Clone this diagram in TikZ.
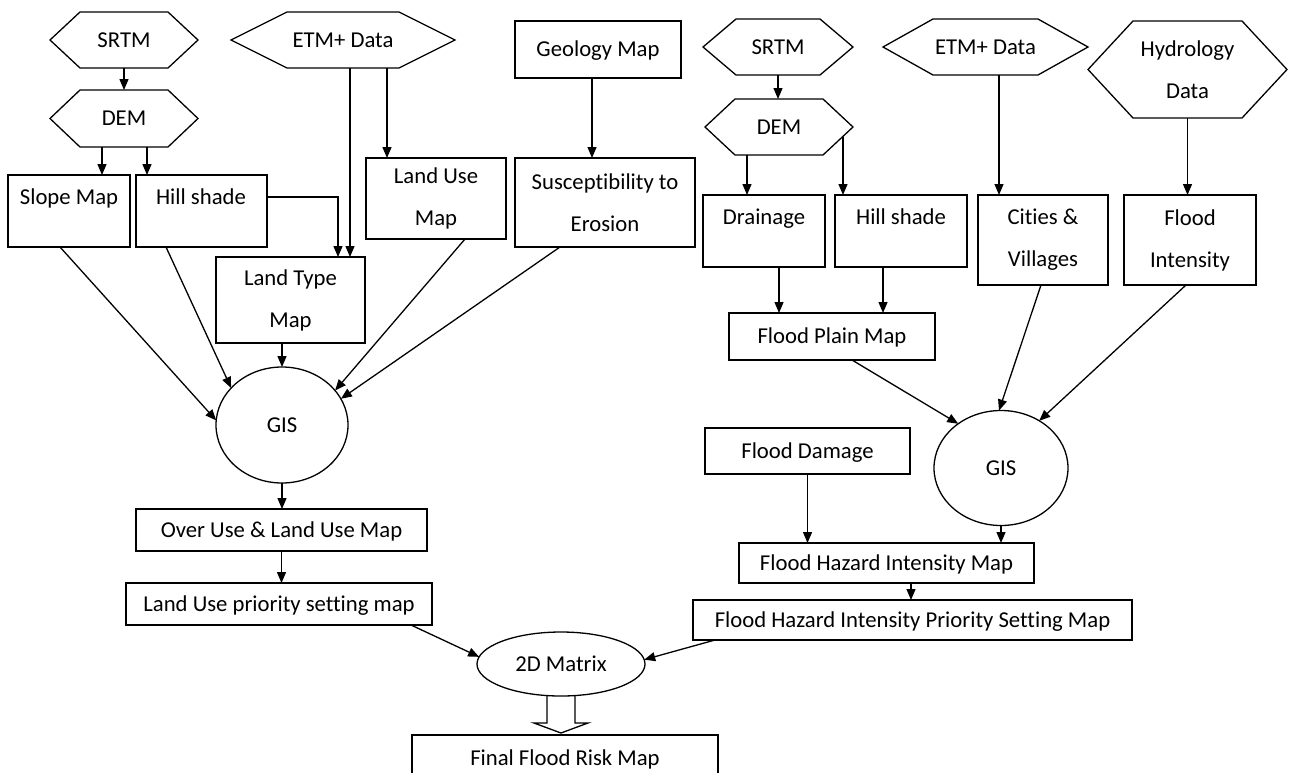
\documentclass[tikz,border=0pt]{standalone}
\usepackage{fontspec}
\setmainfont{Carlito}[Ligatures=NoCommon]
\usetikzlibrary{arrows.meta,shapes.geometric,calc}
\newcommand\hexdraw[2]{\draw[line] (#1.west) -- ([xshift=#2pt]#1.north west) -- ([xshift=-#2pt]#1.north east) -- (#1.east) -- ([xshift=-#2pt]#1.south east) -- ([xshift=#2pt]#1.south west) -- cycle;}
\begin{document}
\begin{tikzpicture}[x=1pt,y=-1pt,
  line/.style={line width=1.3pt},
  arr/.style={line, -{Triangle[length=11pt,width=9pt]}},
  base/.style={font=\fontsize{22.7}{42}\selectfont, inner sep=0pt, outer sep=0pt},
  box/.style={base, draw, line width=1.3pt, rectangle},
  one/.style={text height=14.6pt, text depth=0pt},
  two/.style={align=center},
  hexbox/.style={base},
  ell/.style={base, draw, line width=1.3pt, ellipse, one},
  txt/.style={base, one}
]
\fill[white] (0,0) rectangle (1290,772);
\useasboundingbox (0,0) rectangle (1290,772);

% ---------- left part ----------
\node[hexbox, one, minimum width=148pt, minimum height=56pt] (srtmL) at (124,40) {SRTM};
\node[hexbox, one, minimum width=148pt, minimum height=57pt] (demL) at (124,118.5) {DEM};
\node[hexbox, one, minimum width=224pt, minimum height=56pt] (etmL) at (343,40) {ETM+ Data};
\hexdraw{srtmL}{30}
\hexdraw{demL}{30}
\hexdraw{etmL}{56}

\node[box, anchor=north west, minimum width=122pt, minimum height=72pt] (slope) at (8,175) {};
\node[txt] (slopeT) at (69,197) {Slope Map};
\node[box, anchor=north west, minimum width=131pt, minimum height=72pt] (hillL) at (136,175) {};
\node[txt] (hillLT) at (201,197) {Hill shade};
\node[box, two, anchor=north west, minimum width=140pt, minimum height=81pt] (landuse) at (366,158) {Land Use\\Map};
\node[box, two, anchor=north west, minimum width=149pt, minimum height=86pt] (landtype) at (216,257) {Land Type\\Map};
\node[box, one, anchor=north west, minimum width=166pt, minimum height=57pt] (geology) at (515,21) {Geology Map};
\node[box, two, anchor=north west, minimum width=180pt, minimum height=89pt] (suscept) at (515,158) {Susceptibility to\\Erosion};
\node[ell, minimum width=132pt, minimum height=116pt] (gisL) at (282,425) {GIS};
\node[box, one, anchor=north west, minimum width=291pt, minimum height=42pt] (overuse) at (136,509) {Over Use \& Land Use Map};
\node[box, one, anchor=north west, minimum width=306pt, minimum height=42pt] (lupsm) at (126,583) {Land Use priority setting map};

% ---------- right part ----------
\node[hexbox, one, minimum width=150pt, minimum height=56pt] (srtmR) at (778,47) {SRTM};
\node[hexbox, one, minimum width=148pt, minimum height=56pt] (demR) at (779,127) {DEM};
\node[hexbox, one, minimum width=205pt, minimum height=56pt] (etmR) at (985.5,47) {ETM+ Data};
\node[hexbox, two, minimum width=199pt, minimum height=97pt] (hydro) at (1187.5,69.5) {Hydrology\\Data};
\hexdraw{srtmR}{33}
\hexdraw{demR}{30}
\hexdraw{etmR}{50}
\hexdraw{hydro}{45}

\node[box, anchor=north west, minimum width=122pt, minimum height=72pt] (drain) at (703,195) {};
\node[txt] (drainT) at (764,217) {Drainage};
\node[box, anchor=north west, minimum width=132pt, minimum height=72pt] (hillR) at (835,195) {};
\node[txt] (hillRT) at (901,217) {Hill shade};
\node[box, two, anchor=north west, minimum width=130pt, minimum height=90pt] (cities) at (978,195) {Cities \&\\Villages};
\node[box, two, anchor=north west, minimum width=132pt, minimum height=90pt] (fint) at (1124,195) {Flood\\Intensity};
\node[box, one, anchor=north west, minimum width=206pt, minimum height=47pt] (fplain) at (729,313) {Flood Plain Map};
\node[ell, minimum width=134pt, minimum height=115pt] (gisR) at (1001,468) {GIS};
\node[box, one, anchor=north west, minimum width=205pt, minimum height=46pt] (fdamage) at (705,428) {Flood Damage};
\node[box, one, anchor=north west, minimum width=295pt, minimum height=40pt] (fhim) at (739,543) {Flood Hazard Intensity Map};
\node[box, one, anchor=north west, minimum width=439pt, minimum height=40pt] (fhipsm) at (693,600) {Flood Hazard Intensity Priority Setting Map};
\node[ell, minimum width=168pt, minimum height=64pt] (matrix) at (561,664) {2D Matrix};
\begin{scope}
\clip (0,0) rectangle (1290,772);
\node[box, one, anchor=north west, minimum width=306pt, minimum height=46pt] (final) at (412,735) {Final Flood Risk Map};
\end{scope}

% ---------- helper x positions ----------
\coordinate (x60) at (60,0);
\coordinate (x102) at (102,0);
\coordinate (x147) at (147,0);
\coordinate (x166) at (166,0);
\coordinate (x338) at (338,0);
\coordinate (x350) at (350,0);
\coordinate (x387) at (387,0);
\coordinate (x411) at (411,0);
\coordinate (x465) at (465,0);
\coordinate (x560) at (560,0);
\coordinate (x592) at (592,0);
\coordinate (x715) at (715,0);
\coordinate (x747) at (747,0);
\coordinate (x779) at (779,0);
\coordinate (x852) at (852,0);
\coordinate (x883) at (883,0);
\coordinate (x911) at (911,0);
\coordinate (x999) at (999,0);
\coordinate (x1041) at (1041,0);
\coordinate (x1186) at (1186,0);
\coordinate (y197) at (0,197);

% ---------- left connectors ----------
\draw[arr] (srtmL.south) -- (demL.north);
\draw[arr] (demL.south -| x102) -- (slope.north -| x102);
\draw[arr] (demL.south -| x147) -- (hillL.north -| x147);
\draw[arr] (etmL.south -| x350) -- (landtype.north -| x350);
\draw[arr] (etmL.south -| x387) -- (landuse.north -| x387);
\draw[arr] (hillL.east |- y197) -| (landtype.north -| x338);
\draw[arr] (geology.south -| x592) -- (suscept.north -| x592);
\draw[arr] (landtype.south -| gisL.north) -- (gisL.north);
\draw[arr] (slope.south -| x60) -- (gisL.176);
\draw[arr] (hillL.south -| x166) -- (gisL.144);
\draw[arr] (landuse.south -| x465) -- (gisL.33);
\draw[arr] (suscept.south -| x560) -- (gisL.24);
\draw[arr] (gisL.south) -- (overuse.north -| gisL.south);
\draw[arr] (overuse.south) -- (lupsm.north -| overuse.south);
\draw[arr] (lupsm.south -| x411) -- (matrix.175);

% ---------- right connectors ----------
\draw[arr] (srtmR.south) -- (demR.north -| srtmR.south);
\draw[arr] (demR.south -| x747) -- (drain.north -| x747);
\coordinate (demRr) at ($(demR.east)+(-10,10)$);
\draw[arr] (demRr) -- (hillR.north -| demRr);
\draw[arr] (etmR.south -| x999) -- (cities.north -| x999);
\draw[arr] (hydro.south) -- (fint.north -| hydro.south);
\draw[arr] (drain.south -| x779) -- (fplain.north -| x779);
\draw[arr] (hillR.south -| x883) -- (fplain.north -| x883);
\draw[arr] (fplain.south -| x852) -- (gisR.134);
\draw[arr] (cities.south -| x1041) -- (gisR.92);
\draw[arr] (fint.south -| x1186) -- (gisR.51);
\draw[arr] (fdamage.south) -- (fhim.north -| fdamage.south);
\draw[arr] (gisR.south) -- (fhim.north -| gisR.south);
\draw[arr] (fhim.south -| x911) -- (fhipsm.north -| x911);
\draw[arr] (fhipsm.south -| x715) -- (matrix.3);

% ---------- hollow arrow to final map ----------
\draw[line, line join=miter] (matrix.south) ++(-14,0) -- ++(0,27) -- ++(-13,0) -- ++(27,10) -- ++(27,-10) -- ++(-13,0) -- ++(0,-27);
\end{tikzpicture}
\end{document}
